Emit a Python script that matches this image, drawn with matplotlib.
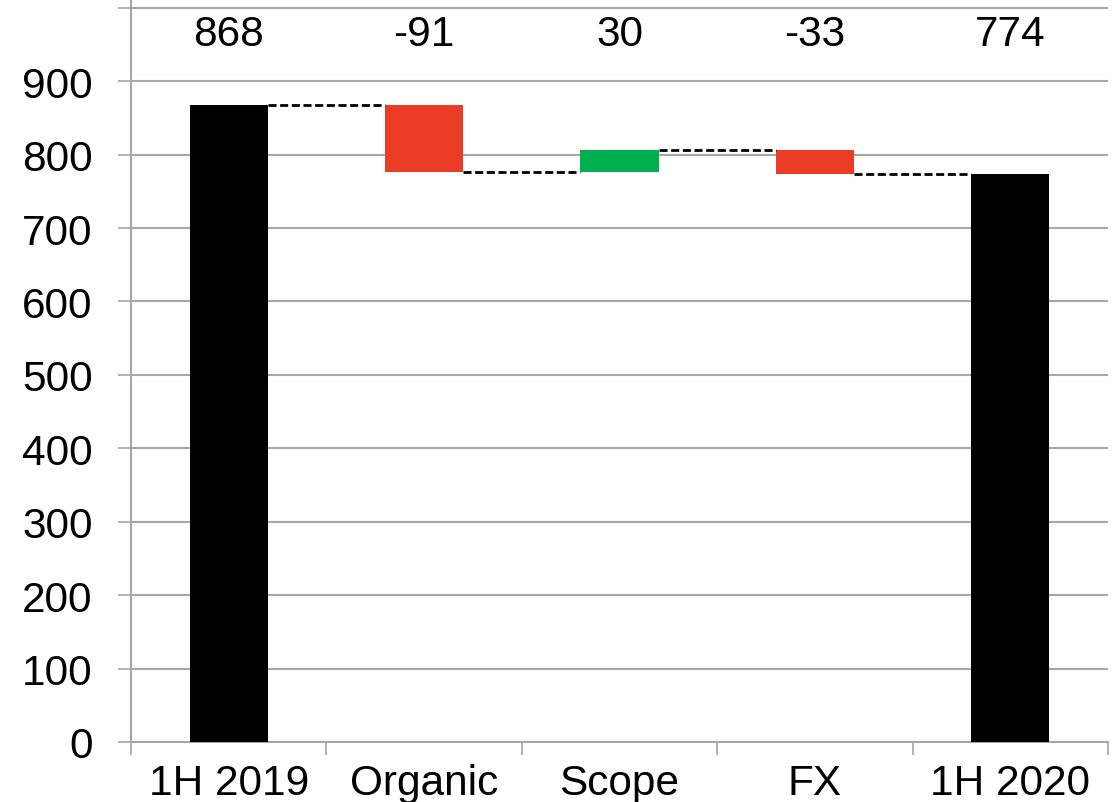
import matplotlib
matplotlib.use("Agg")
import matplotlib.pyplot as plt
import numpy as np

categories = ["1H 2019", "Organic", "Scope", "FX", "1H 2020"]
values = [868, -91, 30, -33, 774]
kinds = ["total", "delta", "delta", "delta", "total"]

RED = "#EB3D25"
GREEN = "#00AF50"
GRID = "#A6A6A6"
FS = 30.5

plt.rcParams["font.family"] = ["Liberation Sans", "DejaVu Sans"]

fig = plt.figure(figsize=(11.2, 8.03), dpi=100)
ax = fig.add_axes([131 / 1120, 60 / 803, (1108 - 131) / 1120, 743 / 803])

x = np.arange(len(categories))
width = 0.4
bottoms, heights, colors = [], [], []
running = 0
for v, k in zip(values, kinds):
    if k == "total":
        bottoms.append(0)
        heights.append(v)
        colors.append("black")
        running = v
    else:
        if v >= 0:
            bottoms.append(running)
            heights.append(v)
            colors.append(GREEN)
        else:
            bottoms.append(running + v)
            heights.append(-v)
            colors.append(RED)
        running += v

ax.bar(x, heights, width=width, bottom=bottoms, color=colors, zorder=3)

# connectors
levels = []
running = 0
for v, k in zip(values, kinds):
    running = v if k == "total" else running + v
    levels.append(running)
for i in range(len(x) - 1):
    ax.plot([x[i] + width / 2, x[i + 1] - width / 2], [levels[i], levels[i]],
            color="black", linestyle=(0, (2.9, 1.3)), lw=2.0, zorder=4)

# value labels on top
for xi, v in zip(x, values):
    ax.text(xi, 964, f"{v}", ha="center", va="center", fontsize=FS, color="black")

ax.set_xlim(-0.5, len(x) - 0.5)
ax.set_ylim(0, 1012)
yt = np.arange(0, 1001, 100)
ax.set_yticks(yt)
ax.set_yticklabels([str(t) if t < 1000 else "" for t in yt])
ax.yaxis.grid(True, color=GRID, lw=1.5, zorder=0)
ax.set_axisbelow(True)

ax.set_xticks(x)
ax.set_xticklabels(categories)
ax.set_xticks(np.arange(-0.5, len(x), 1), minor=True)
ax.tick_params(axis="x", which="major", length=0, pad=15, labelsize=FS)
ax.tick_params(axis="x", which="minor", length=9, width=1.2, color=GRID, direction="out")
ax.tick_params(axis="y", length=9.5, width=1.2, color=GRID, pad=18, labelsize=FS)

for s in ["top", "right"]:
    ax.spines[s].set_visible(False)
ax.spines["left"].set_color(GRID)
ax.spines["left"].set_linewidth(1.5)
ax.spines["bottom"].set_color(GRID)
ax.spines["bottom"].set_linewidth(1.5)

fig.savefig("out.png", dpi=100)
